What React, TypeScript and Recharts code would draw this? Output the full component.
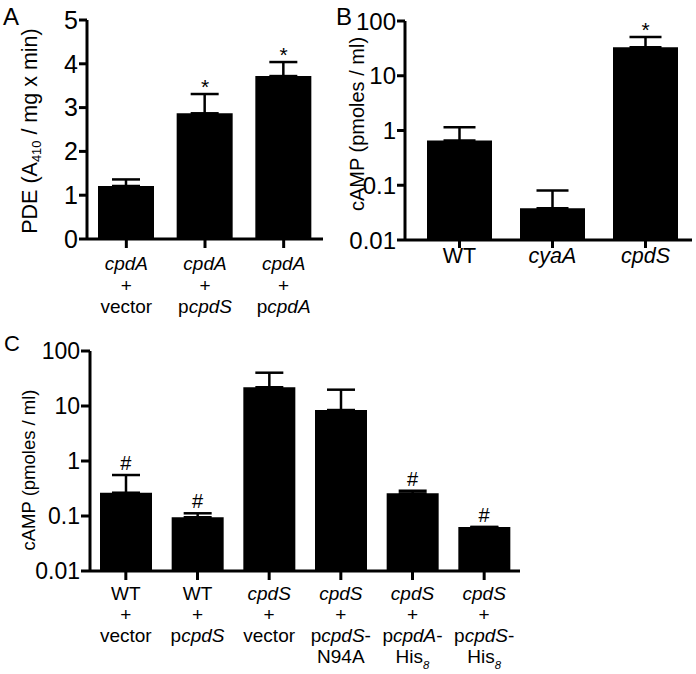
import React from 'react';
import { ComposedChart, Bar, XAxis, YAxis, ErrorBar, Scatter } from 'recharts';

const FONT = '"Liberation Sans", Arial, Helvetica, sans-serif';

// Panel A
const categoriesA = ['*cpdA*|+|vector', '*cpdA*|+|p*cpdS*', '*cpdA*|+|p*cpdA*'];
const valuesA = [1.21, 2.87, 3.72];
const errorsA = [0.15, 0.44, 0.32];
const marksA = ['', '*', '*'];
const ticksA = [0, 1, 2, 3, 4, 5];

// Panel B
const categoriesB = ['WT', '*cyaA*', '*cpdS*'];
const valuesB = [0.66, 0.038, 33];
const errorsB = [0.49, 0.042, 18];
const marksB = ['', '', '*'];

// Panel C
const categoriesC = [
  'WT|+|vector',
  'WT|+|p*cpdS*',
  '*cpdS*|+|vector',
  '*cpdS*|+|p*cpdS*-|N94A',
  '*cpdS*|+|p*cpdA*-|His_*8*_',
  '*cpdS*|+|p*cpdS*-|His_*8*_',
];
const valuesC = [0.265, 0.095, 21.9, 8.45, 0.258, 0.063];
const errorsC = [0.291, 0.017, 18.4, 11.35, 0.03, 0];
const marksC = ['#', '#', '', '', '#', '#'];

const ticksLog = [0.01, 0.1, 1, 10, 100];

const buildData = (cats: string[], vals: number[], errs: number[], marks: string[]) =>
  cats.map((c, i) => ({ cat: c, v: vals[i], e: [0, errs[i]], top: vals[i] + errs[i], mark: marks[i] }));

const dataA = buildData(categoriesA, valuesA, errorsA, marksA);
const dataB = buildData(categoriesB, valuesB, errorsB, marksB);
const dataC = buildData(categoriesC, valuesC, errorsC, marksC);

type Tok = { text: string; italic: boolean; sub: boolean };
function tokenize(line: string): Tok[] {
  const out: Tok[] = [];
  let italic = false;
  let sub = false;
  let buf = '';
  const flush = () => {
    if (buf) out.push({ text: buf, italic, sub });
    buf = '';
  };
  for (const ch of line) {
    if (ch === '*') { flush(); italic = !italic; }
    else if (ch === '_') { flush(); sub = !sub; }
    else buf += ch;
  }
  flush();
  return out;
}

function RichTspans({ line, fs }: { line: string; fs: number }) {
  const toks = tokenize(line);
  let prevSub = false;
  const shift = Math.round(fs * 0.3);
  return (
    <>
      {toks.map((t, i) => {
        let dy = 0;
        if (t.sub && !prevSub) dy = shift;
        if (!t.sub && prevSub) dy = -shift;
        prevSub = t.sub;
        return (
          <tspan key={i} dy={dy || undefined} fontStyle={t.italic ? 'italic' : 'normal'} fontSize={t.sub ? fs * 0.6 : fs}>
            {t.text}
          </tspan>
        );
      })}
    </>
  );
}

const makeCatTick = (fs: number, firstDy: number, lh: number) => (props: any) => {
  const { x, y, payload } = props;
  const lines = String(payload.value).split('|');
  return (
    <g transform={`translate(${x},${y})`}>
      {lines.map((ln, i) => (
        <text key={i} x={0} y={firstDy + i * lh} textAnchor="middle" fontFamily={FONT} fontSize={fs} fill="#000">
          <RichTspans line={ln} fs={fs} />
        </text>
      ))}
    </g>
  );
};

const makeYLabel = (text: string, cx: number, cy: number, fs: number) => () => (
  <text
    transform={`translate(${cx},${cy}) rotate(-90)`}
    textAnchor="middle"
    dominantBaseline="central"
    fontFamily={FONT}
    fontSize={fs}
    fill="#000"
  >
    <RichTspans line={text} fs={fs} />
  </text>
);

const makeMark = (fs: number, off: number) => (props: any) => {
  const { cx, cy, payload } = props;
  if (!payload || !payload.mark || !isFinite(cx) || !isFinite(cy)) return <g />;
  return (
    <text x={cx} y={cy - off} textAnchor="middle" fontFamily={FONT} fontSize={fs} fill="#000">
      {payload.mark}
    </text>
  );
};

const axisStyle = { stroke: '#000', strokeWidth: 3 };

export default function App() {
  return (
    <div style={{ position: 'absolute', left: 0, top: 0, width: 696, height: 674, background: '#fff', overflow: 'hidden' }}>
      {/* Panel A */}
      <div style={{ position: 'absolute', left: 0, top: 0 }}>
        <ComposedChart width={340} height={320} data={dataA} margin={{ top: 20, right: 17, bottom: 0, left: 0 }}>
          <XAxis
            dataKey="cat"
            height={81}
            interval={0}
            axisLine={axisStyle}
            tickLine={axisStyle}
            tickSize={9}
            tick={makeCatTick(19, 20, 21.5)}
          />
          <YAxis
            width={87}
            type="number"
            domain={[0, 5]}
            ticks={ticksA}
            axisLine={axisStyle}
            tickLine={axisStyle}
            tickSize={8}
            tickMargin={1}
            tick={{ fill: '#000', fontSize: 25, fontFamily: FONT }}
            label={{ content: makeYLabel('PDE (A_410_ / mg x min)', 30, 131, 21.5) }}
          />
          <Bar dataKey="v" fill="#000" barSize={56} isAnimationActive={false}>
            <ErrorBar dataKey="e" width={14} stroke="#000" strokeWidth={2.5} direction="y" />
          </Bar>
          <Scatter dataKey="top" shape={makeMark(21, 0)} isAnimationActive={false} />
        </ComposedChart>
      </div>

      {/* Panel B */}
      <div style={{ position: 'absolute', left: 340, top: 0 }}>
        <ComposedChart width={356} height={320} data={dataB} margin={{ top: 21, right: 4, bottom: 0, left: 0 }}>
          <XAxis
            dataKey="cat"
            height={80}
            interval={0}
            padding={{ left: 8, right: 0 }}
            axisLine={axisStyle}
            tickLine={axisStyle}
            tickSize={8}
            tick={makeCatTick(21.5, 13, 22)}
          />
          <YAxis
            width={65}
            type="number"
            scale="log"
            domain={[0.01, 100]}
            allowDataOverflow
            ticks={ticksLog}
            axisLine={axisStyle}
            tickLine={axisStyle}
            tickSize={8}
            tickMargin={1}
            tick={{ fill: '#000', fontSize: 24, fontFamily: FONT }}
            label={{ content: makeYLabel('cAMP (pmoles / ml)', 17, 124, 20) }}
          />
          <Bar dataKey="v" fill="#000" barSize={65} isAnimationActive={false}>
            <ErrorBar dataKey="e" width={16} stroke="#000" strokeWidth={2.5} direction="y" />
          </Bar>
          <Scatter dataKey="top" shape={makeMark(21, 0)} isAnimationActive={false} />
        </ComposedChart>
      </div>

      {/* Panel C */}
      <div style={{ position: 'absolute', left: 0, top: 330 }}>
        <ComposedChart width={540} height={344} data={dataC} margin={{ top: 21, right: 20, bottom: 0, left: 0 }}>
          <XAxis
            dataKey="cat"
            height={103}
            interval={0}
            axisLine={axisStyle}
            tickLine={axisStyle}
            tickSize={9}
            tick={makeCatTick(19, 18, 21)}
          />
          <YAxis
            width={90}
            type="number"
            scale="log"
            domain={[0.01, 100]}
            allowDataOverflow
            ticks={ticksLog}
            axisLine={axisStyle}
            tickLine={axisStyle}
            tickSize={9}
            tickMargin={1}
            tick={{ fill: '#000', fontSize: 23, fontFamily: FONT }}
            label={{ content: makeYLabel('cAMP (pmoles / ml)', 28, 140, 18.5) }}
          />
          <Bar dataKey="v" fill="#000" barSize={52} isAnimationActive={false}>
            <ErrorBar dataKey="e" width={14} stroke="#000" strokeWidth={2.5} direction="y" />
          </Bar>
          <Scatter dataKey="top" shape={makeMark(20, 5)} isAnimationActive={false} />
        </ComposedChart>
      </div>

      {/* Panel letters */}
      <svg width={696} height={674} style={{ position: 'absolute', left: 0, top: 0, pointerEvents: 'none' }}>
        <text x={3} y={25} fontFamily={FONT} fontSize={24} fill="#000">A</text>
        <text x={336} y={25} fontFamily={FONT} fontSize={24} fill="#000">B</text>
        <text x={4} y={351} fontFamily={FONT} fontSize={22} fill="#000">C</text>
      </svg>
    </div>
  );
}
